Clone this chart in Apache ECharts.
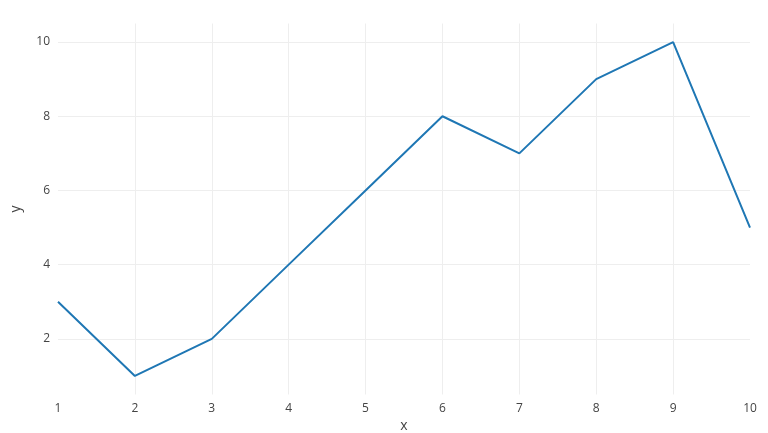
<!DOCTYPE html>
<html><head><meta charset="utf-8">
<script src="https://cdn.jsdelivr.net/npm/echarts@6/dist/echarts.min.js"></script>
<style>html,body{margin:0;padding:0;background:#fff}#c{width:768px;height:433px}</style>
</head><body><div id="c"></div>
<script>
const xValues = [1, 2, 3, 4, 5, 6, 7, 8, 9, 10];
const yValues = [3, 1, 2, 4, 6, 8, 7, 9, 10, 5];
const yTicks = [2, 4, 6, 8, 10];

const chart = echarts.init(document.getElementById('c'), null, {renderer: 'canvas'});
const font = '"Open Sans", "Noto Sans", sans-serif';
chart.setOption({
  animation: false,
  backgroundColor: '#fff',
  grid: {left: 58, right: 18, top: 23.5, bottom: 38.5, containLabel: false, outerBoundsMode: 'none'},
  xAxis: {
    type: 'value', min: 1, max: 10, interval: 1,
    name: 'x', nameLocation: 'middle', nameGap: 24,
    nameTextStyle: {color: '#444', fontSize: 14, fontFamily: font},
    axisLine: {show: false}, axisTick: {show: false},
    axisLabel: {color: '#444', fontSize: 12, fontFamily: font, margin: 8},
    splitLine: {show: true, showMinLine: false, showMaxLine: false, lineStyle: {color: '#eeeeee', width: 1}}
  },
  yAxis: {
    type: 'value', min: 0.5, max: 10.5,
    name: 'y', nameLocation: 'middle', nameGap: 35, nameRotate: 90,
    nameTextStyle: {color: '#444', fontSize: 14, fontFamily: font},
    axisLine: {show: false},
    axisTick: {show: false, customValues: yTicks},
    axisLabel: {color: '#444', fontSize: 12, fontFamily: font, margin: 8, customValues: yTicks},
    splitLine: {show: true, lineStyle: {color: '#eeeeee', width: 1}}
  },
  series: [{
    type: 'line',
    data: xValues.map((x, i) => [x, yValues[i]]),
    showSymbol: false,
    symbol: 'none',
    lineStyle: {color: '#1f77b4', width: 2},
    itemStyle: {color: '#1f77b4'}
  }]
});
</script></body></html>
